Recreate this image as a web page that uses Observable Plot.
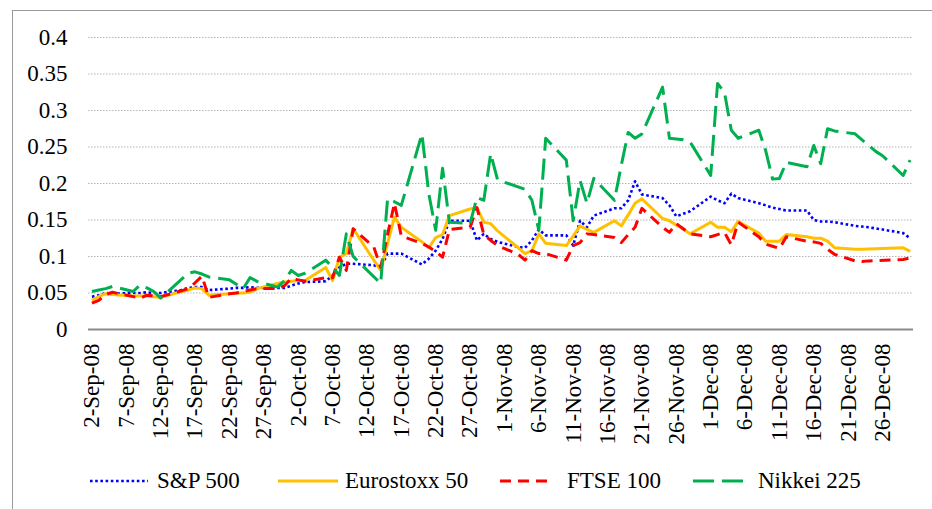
<!DOCTYPE html>
<html>
<head>
<meta charset="utf-8">
<script src="https://cdn.jsdelivr.net/npm/d3@7"></script>
<script src="https://cdn.jsdelivr.net/npm/@observablehq/plot@0.6"></script>
<style>
  body { margin: 0; background: #fff; }
  #wrap { position: relative; width: 932px; height: 509px; overflow: hidden; background: #fff; }
  #frame { position: absolute; z-index: 5; left: 12px; top: 10px; width: 960px; height: 540px; border-left: 1.5px solid #9a9a9a; border-top: 1.5px solid #9a9a9a; pointer-events: none; }
  #chart { position: absolute; left: 0; top: 0; }
  .lg { position: absolute; top: 466px; height: 30px; font-size: 23px; line-height: 30px; color: #000; white-space: nowrap; }
  .lg svg { position: absolute; top: 0; }
  .serif, .serif text, .serif span { font-family: "Liberation Serif", "Times New Roman", Tinos, serif !important; }
</style>
</head>
<body>
<div id="wrap" class="serif">
  <div id="chart"></div>
  <div id="legend"></div>
  <div id="frame"></div>
</div>
<script>
const dates = ["2008-09-02","2008-09-03","2008-09-04","2008-09-05","2008-09-08","2008-09-09","2008-09-10","2008-09-11","2008-09-12","2008-09-15","2008-09-16","2008-09-17","2008-09-18","2008-09-19","2008-09-22","2008-09-23","2008-09-24","2008-09-25","2008-09-26","2008-09-29","2008-09-30",
"2008-10-01","2008-10-02","2008-10-03","2008-10-06","2008-10-07","2008-10-08","2008-10-09","2008-10-10","2008-10-13","2008-10-14","2008-10-15","2008-10-16","2008-10-17","2008-10-20","2008-10-21","2008-10-22","2008-10-23","2008-10-24","2008-10-27","2008-10-28","2008-10-29","2008-10-30","2008-10-31",
"2008-11-03","2008-11-04","2008-11-05","2008-11-06","2008-11-07","2008-11-10","2008-11-11","2008-11-12","2008-11-13","2008-11-14","2008-11-17","2008-11-18","2008-11-19","2008-11-20","2008-11-21","2008-11-24","2008-11-25","2008-11-26","2008-11-27","2008-11-28",
"2008-12-01","2008-12-02","2008-12-03","2008-12-04","2008-12-05","2008-12-08","2008-12-09","2008-12-10","2008-12-11","2008-12-12","2008-12-15","2008-12-16","2008-12-17","2008-12-18","2008-12-19","2008-12-22","2008-12-23","2008-12-24","2008-12-25","2008-12-26","2008-12-29","2008-12-30"];

const sp500 = [
  0.045,0.047,0.050,0.049,0.050,0.050,0.051,0.050,0.050,0.054,0.057,0.058,0.058,0.054,0.056,0.057,0.057,0.058,0.057,0.057,0.057,
  0.060,0.063,0.065,0.066,0.074,0.085,0.090,0.090,0.088,0.085,0.104,0.104,0.104,0.089,0.097,0.108,0.124,0.149,0.149,0.122,0.131,0.124,0.120,
  0.113,0.112,0.122,0.137,0.129,0.129,0.115,0.149,0.140,0.156,0.166,0.166,0.177,0.203,0.185,0.180,0.170,0.155,null,0.162,
  0.182,0.177,0.173,0.186,0.180,0.173,0.170,0.167,0.165,0.163,0.163,0.150,0.148,0.148,0.147,0.142,0.141,0.140,null,0.137,0.132,0.125];

const eurostoxx50 = [
  0.040,0.045,0.049,0.048,0.046,0.046,0.046,0.045,0.044,0.052,0.054,0.057,0.056,0.047,0.049,0.050,0.050,0.051,0.056,0.063,0.065,
  0.066,0.067,0.067,0.085,0.067,0.099,0.104,0.138,0.095,0.081,0.118,0.154,0.140,0.120,0.112,0.126,0.130,0.156,0.165,0.167,0.147,0.145,0.135,
  0.112,0.104,0.108,0.131,0.118,0.115,0.128,0.142,0.137,0.133,0.149,0.142,0.157,0.173,0.179,0.152,0.149,0.143,0.138,0.131,
  0.147,0.140,0.140,0.134,0.148,0.132,0.121,0.121,0.121,0.130,0.127,0.125,0.125,0.121,0.112,0.110,0.110,null,null,null,0.112,0.107];

const ftse100 = [
  0.036,0.040,0.048,0.051,0.045,0.043,0.047,0.046,0.045,0.053,0.056,0.064,0.073,0.044,0.049,0.050,0.052,0.054,0.056,0.056,0.060,
  0.070,0.068,0.066,0.071,0.071,0.099,0.081,0.138,0.113,0.085,0.130,0.173,0.128,0.118,0.113,0.107,0.099,0.137,0.140,0.167,0.130,0.122,0.115,
  0.103,0.095,0.108,0.104,0.104,0.095,0.115,0.119,0.131,0.130,0.126,0.119,0.130,0.140,0.166,0.140,0.133,0.145,0.138,0.131,
  0.127,0.130,0.133,0.116,0.147,0.127,0.117,0.114,0.111,0.127,0.121,0.120,0.118,0.110,0.103,0.094,0.093,0.094,null,null,0.096,0.098];

const nikkei225 = [
  0.052,0.054,0.056,0.059,0.052,0.061,0.057,0.052,0.043,null,0.077,0.079,0.076,0.072,0.068,null,0.056,0.071,0.066,0.058,0.067,
  0.081,0.074,0.077,0.095,0.085,0.074,0.131,0.100,null,0.063,0.179,0.175,0.170,0.268,0.186,0.136,0.221,0.147,0.145,0.181,0.177,0.241,0.205,
  null,0.192,0.177,0.136,0.262,0.232,0.149,0.204,0.173,0.207,0.177,0.225,0.270,0.262,0.268,0.332,0.262,0.261,0.260,0.257,
  0.211,0.337,0.325,0.273,0.262,0.273,0.245,0.206,0.207,0.229,0.223,0.252,0.227,0.275,0.272,0.268,null,0.252,0.244,0.238,0.211,0.232];

const seriesNames = ["S&P 500", "Eurostoxx 50", "FTSE 100", "Nikkei 225"];
const yTicks = [0, 0.05, 0.1, 0.15, 0.2, 0.25, 0.3, 0.35, 0.4];
const xTickLabels = ["2008-09-02","2008-09-07","2008-09-12","2008-09-17","2008-09-22","2008-09-27","2008-10-02","2008-10-07","2008-10-12","2008-10-17","2008-10-22","2008-10-27","2008-11-01","2008-11-06","2008-11-11","2008-11-16","2008-11-21","2008-11-26","2008-12-01","2008-12-06","2008-12-11","2008-12-16","2008-12-21","2008-12-26"];

const styles = {
  "S&P 500":      {stroke: "#0000ff", strokeWidth: 2.6, strokeDasharray: "2.6 2.6", w: 58},
  "Eurostoxx 50": {stroke: "#ffc000", strokeWidth: 3,   strokeDasharray: null,      w: 60},
  "FTSE 100":     {stroke: "#ff0000", strokeWidth: 3,   strokeDasharray: "11 7",    w: 50},
  "Nikkei 225":   {stroke: "#00b050", strokeWidth: 3,   strokeDasharray: "21 8",    w: 52}
};

const parse = d3.utcParse("%Y-%m-%d");
const valueLists = [sp500, eurostoxx50, ftse100, nikkei225];
const rows = [];
seriesNames.forEach((name, k) => {
  dates.forEach((d, i) => {
    const v = valueLists[k][i];
    if (v != null) rows.push({date: parse(d), value: v, series: name});
  });
});

const fmtX = d3.utcFormat("%-d-%b-%y");
const font = "'Liberation Serif', 'Times New Roman', serif";

const chart = Plot.plot({
  width: 932,
  height: 455,
  marginLeft: 88,
  marginRight: 19,
  marginTop: 37,
  marginBottom: 126,
  className: "serif",
  style: {fontFamily: font, fontSize: "23px", color: "#000", background: "transparent"},
  x: {type: "utc", domain: [new Date(Date.UTC(2008, 8, 1, 12)), new Date(Date.UTC(2008, 11, 30, 12))]},
  y: {domain: [0, 0.4]},
  marks: [
    Plot.ruleY(yTicks.filter(t => t > 0), {stroke: "#b5b5b5", strokeWidth: 1.2, strokeDasharray: "1.5 1.5"}),
    Plot.ruleY([0], {stroke: "#8a8a8a", strokeWidth: 2}),
    ...seriesNames.map(name => Plot.line(rows, {
      filter: d => d.series === name,
      x: "date", y: "value",
      stroke: styles[name].stroke,
      strokeWidth: styles[name].strokeWidth,
      strokeDasharray: styles[name].strokeDasharray,
      strokeLinejoin: "round",
      strokeLinecap: "butt"
    })),
    Plot.axisY(yTicks, {tickSize: 0, tickPadding: 21, fontSize: 23, label: null, tickFormat: d => String(d)}),
    Plot.axisX(xTickLabels.map(parse), {tickSize: 0, tickPadding: 14, tickRotate: -90, fontSize: 23, label: null, tickFormat: fmtX})
  ]
});
document.getElementById("chart").appendChild(chart);

// legend (HTML, below the SVG plot area)
const legendPos = {"S&P 500": [90, 157], "Eurostoxx 50": [278, 345], "FTSE 100": [500, 567], "Nikkei 225": [693, 758]};
const legend = document.getElementById("legend");
seriesNames.forEach(name => {
  const s = styles[name];
  const [lx, tx] = legendPos[name];
  const item = document.createElement("div");
  item.className = "lg";
  item.style.left = lx + "px";
  item.innerHTML = `<svg width="${s.w}" height="30"><line x1="0" x2="${s.w}" y1="15" y2="15" stroke="${s.stroke}" stroke-width="${s.strokeWidth}" ${s.strokeDasharray ? `stroke-dasharray="${s.strokeDasharray}"` : ""}/></svg><span style="position:absolute;left:${tx - lx}px;top:0">${name.replace("&", "&amp;")}</span>`;
  legend.appendChild(item);
});
</script>
</body>
</html>
